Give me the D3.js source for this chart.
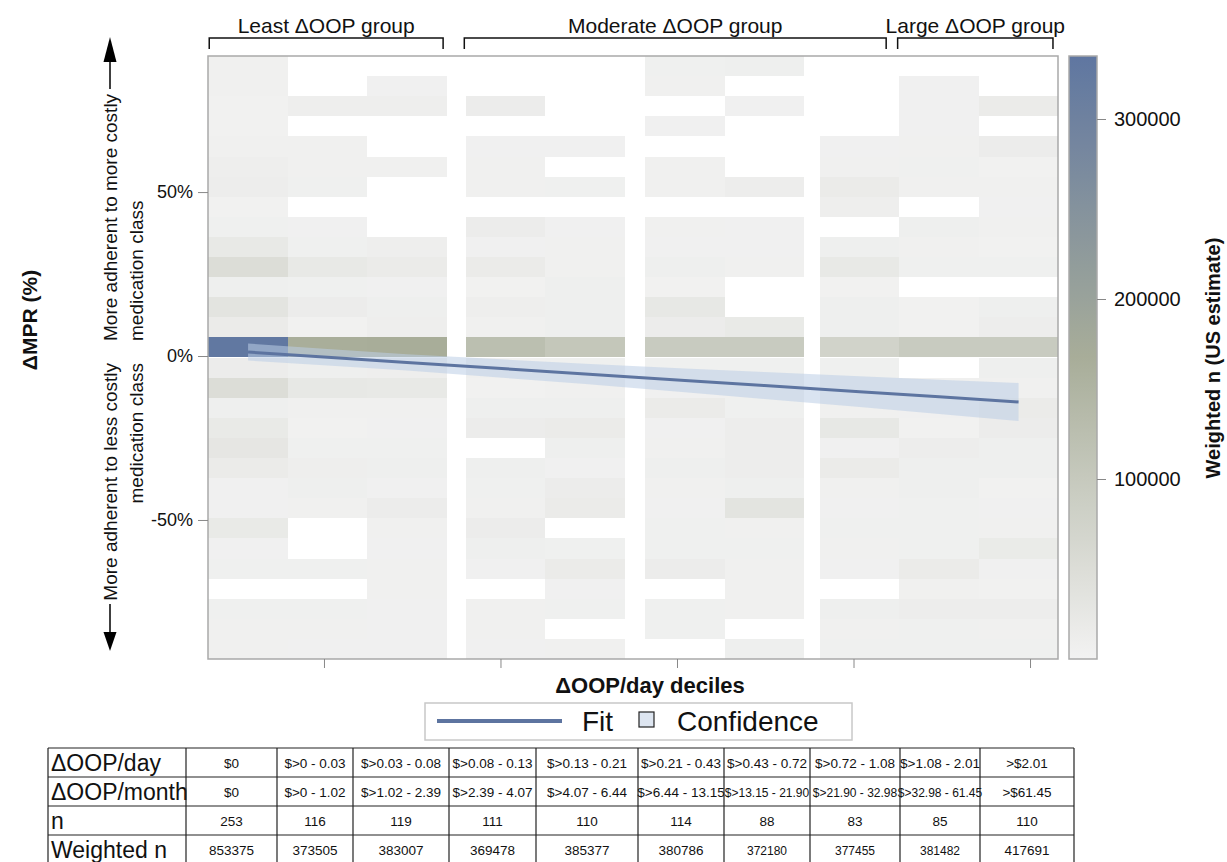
<!DOCTYPE html>
<html>
<head>
<meta charset="utf-8">
<script src="https://cdn.jsdelivr.net/npm/d3@7"></script>
<style>
  body { margin: 0; background: #fff; }
  svg text { font-family: "Liberation Sans", Arial, Helvetica, sans-serif; fill: #111; }
</style>
</head>
<body>
<svg id="chart" width="1227" height="862"></svg>
<script>
// ---------------- data ----------------
const deciles = [1, 2, 3, 4, 5, 6, 7, 8, 9, 10];
// position of each decile column on the decile axis
const decileX = [1.14, 2.04, 2.94, 4.06, 4.96, 6.09, 6.99, 8.07, 8.97, 9.87];
const decileBinWidth = 0.9;
const xDomain = [0.686, 10.317];
const xTickValues = [2, 4, 6, 8, 10];

// ΔMPR bins (percent): 30 bins spanning the axis
const mprDomain = [-92.4, 91.5];
const mprBinCount = 30;
const mprTicks = [-50, 0, 50];

// weighted n per ΔMPR bin, listed from the highest bin down; null = no patients
const wn1  = [5000,5000,3000,3000,5000,10000,12000,3000,6000,22000,50000,8000,33000,16000,330000,14000,50000,8000,20000,28000,16000,4000,4000,20000,4000,6000,null,6000,5000,5000];
const wn2  = [null,null,10000,null,5000,5000,6000,null,4000,6000,22000,6000,14000,3000,165000,8000,25000,5000,3000,6000,10000,8000,5000,null,null,6000,null,6000,5000,4000];
const wn3  = [null,4000,10000,null,null,5000,null,null,null,10000,16000,4000,8000,10000,168000,10000,22000,5000,4000,6000,8000,4000,14000,5000,4000,5000,5000,4000,4000,4000];
const wn4  = [null,null,14000,null,4000,5000,5000,null,14000,4000,16000,3000,10000,5000,125000,5000,3000,8000,14000,null,8000,6000,5000,14000,8000,4000,null,5000,5000,4000];
const wn5  = [null,null,null,null,4000,null,6000,null,4000,5000,5000,8000,8000,8000,105000,6000,5000,8000,16000,8000,4000,14000,16000,null,6000,16000,4000,6000,null,5000];
const wn6  = [6000,5000,null,4000,null,5000,5000,null,5000,4000,8000,3000,25000,14000,95000,6000,4000,16000,4000,5000,8000,5000,4000,6000,6000,14000,null,6000,6000,null];
const wn7  = [8000,null,4000,null,null,null,12000,null,4000,4000,5000,null,null,20000,95000,6000,5000,6000,12000,12000,12000,8000,33000,5000,6000,5000,5000,5000,null,8000];
const wn8  = [null,null,null,null,4000,5000,16000,10000,null,8000,22000,3000,8000,8000,75000,6000,5000,5000,25000,4000,16000,5000,4000,6000,5000,4000,null,8000,5000,6000];
const wn9  = [null,4000,4000,4000,5000,6000,5000,null,8000,5000,6000,null,3000,3000,95000,null,5000,4000,3000,12000,8000,8000,6000,6000,6000,16000,5000,12000,6000,6000];
const wn10 = [null,null,16000,null,14000,3000,5000,4000,5000,3000,6000,null,8000,12000,95000,8000,5000,16000,14000,8000,8000,3000,4000,5000,18000,4000,3000,12000,5000,6000];
const weightedByDecile = [wn1, wn2, wn3, wn4, wn5, wn6, wn7, wn8, wn9, wn10];

// linear fit of ΔMPR on decile with its confidence limits (percent)
const fitEstimate = [1.2, -0.37, -1.94, -3.89, -5.46, -7.43, -9.0, -10.88, -12.45, -14.0];
const fitUpper    = [3.8, 2.13, 0.56, -1.09, -2.36, -3.83, -4.9, -6.18, -7.25, -8.2];
const fitLower    = [-1.4, -2.87, -4.44, -6.69, -8.56, -11.03, -13.1, -15.58, -17.65, -19.8];

// colour legend
const colorDomain = [0, 167500, 335000];
const colorTicks = [100000, 200000, 300000];

// group brackets along the top (decile-axis units)
const groupNames = ["Least \u0394OOP group", "Moderate \u0394OOP group", "Large \u0394OOP group"];
const groupStart = [0.70, 3.59, 8.50];
const groupEnd   = [3.35, 8.37, 10.26];

// summary table
const rowLabels = ["\u0394OOP/day", "\u0394OOP/month", "n", "Weighted n"];
const oopDay   = ["$0", "$>0 - 0.03", "$>0.03 - 0.08", "$>0.08 - 0.13", "$>0.13 - 0.21", "$>0.21 - 0.43", "$>0.43 - 0.72", "$>0.72 - 1.08", "$>1.08 - 2.01", ">$2.01"];
const oopMonth = ["$0", "$>0 - 1.02", "$>1.02 - 2.39", "$>2.39 - 4.07", "$>4.07 - 6.44", "$>6.44 - 13.15", "$>13.15 - 21.90", "$>21.90 - 32.98", "$>32.98 - 61.45", ">$61.45"];
const nCount   = [253, 116, 119, 111, 110, 114, 88, 83, 85, 110];
const nWeighted = [853375, 373505, 383007, 369478, 385377, 380786, 372180, 377455, 381482, 417691];

// ---------------- layout ----------------
const svg = d3.select("#chart");
const P = { left: 208, right: 1058, top: 56, bottom: 659 };

const x = d3.scaleLinear().domain(xDomain).range([P.left, P.right]);
const y = d3.scaleLinear().domain(mprDomain).range([P.bottom, P.top]);
const color = d3.scaleLinear().domain(colorDomain)
  .range(["#f2f2f2", "#a8ad99", "#5f76a1"]).clamp(true);

const binStep = (mprDomain[1] - mprDomain[0]) / mprBinCount;

// heat map cells
const cells = [];
weightedByDecile.forEach((col, i) => {
  col.forEach((v, r) => {
    if (v == null) return;
    const hi = mprDomain[1] - r * binStep;
    cells.push({ d: deciles[i], xc: decileX[i], lo: hi - binStep, hi, v });
  });
});

const xl = d => Math.round(x(d.xc - decileBinWidth / 2));
const xr = d => Math.round(x(d.xc + decileBinWidth / 2));
svg.append("g").attr("shape-rendering", "crispEdges")
  .selectAll("rect").data(cells).join("rect")
  .attr("x", xl)
  .attr("width", d => xr(d) - xl(d))
  .attr("y", d => Math.round(y(d.hi)))
  .attr("height", d => Math.round(y(d.lo)) - Math.round(y(d.hi)))
  .attr("fill", d => color(d.v));

// confidence band and fit line
const fitPts = decileX.map((xv, i) => ({ x: xv, est: fitEstimate[i], lo: fitLower[i], hi: fitUpper[i] }));
svg.append("path").datum(fitPts)
  .attr("d", d3.area().x(d => x(d.x)).y0(d => y(d.lo)).y1(d => y(d.hi)))
  .attr("fill", "#bccde6").attr("fill-opacity", 0.55);
svg.append("path").datum(fitPts)
  .attr("d", d3.line().x(d => x(d.x)).y(d => y(d.est)))
  .attr("fill", "none").attr("stroke", "#5d74a0").attr("stroke-width", 3);

// frame
svg.append("rect").attr("x", P.left).attr("y", P.top)
  .attr("width", P.right - P.left).attr("height", P.bottom - P.top)
  .attr("fill", "none").attr("stroke", "#a9a9a9").attr("stroke-width", 1.5);

// y axis
const yAxis = svg.append("g").attr("transform", `translate(${P.left},0)`)
  .call(d3.axisLeft(y).tickValues(mprTicks).tickSize(10).tickPadding(5).tickFormat(d => d + "%"));
yAxis.select(".domain").remove();
yAxis.selectAll(".tick line").attr("stroke", "#888");
yAxis.selectAll(".tick text").attr("font-size", 18).attr("fill", "#222")
  .style("font-family", '"Liberation Sans", Arial, sans-serif');

// x axis (unlabelled ticks)
const xAxis = svg.append("g").attr("transform", `translate(0,${P.bottom})`)
  .call(d3.axisBottom(x).tickValues(xTickValues).tickSize(9).tickFormat(""));
xAxis.select(".domain").remove();
xAxis.selectAll(".tick line").attr("stroke", "#888");

// axis titles
svg.append("text").attr("transform", "translate(37,320) rotate(-90)")
  .attr("text-anchor", "middle").attr("font-size", 21).attr("font-weight", "bold")
  .text("\u0394MPR (%)");
svg.append("text").attr("x", 650).attr("y", 693)
  .attr("text-anchor", "middle").attr("font-size", 22).attr("font-weight", "bold")
  .text("\u0394OOP/day deciles");

// direction annotations
const ann = svg.append("g").attr("font-size", 19);
ann.append("text").attr("transform", "translate(117,341) rotate(-90)").attr("text-anchor", "start")
  .text("More adherent to more costly");
ann.append("text").attr("transform", "translate(143,341) rotate(-90)").attr("text-anchor", "start")
  .text("medication class");
ann.append("text").attr("transform", "translate(117,363) rotate(-90)").attr("text-anchor", "end")
  .text("More adherent to less costly");
ann.append("text").attr("transform", "translate(143,363) rotate(-90)").attr("text-anchor", "end")
  .text("medication class");
ann.append("line").attr("x1", 110).attr("x2", 110).attr("y1", 89).attr("y2", 60)
  .attr("stroke", "#000").attr("stroke-width", 1.5);
ann.append("path").attr("d", "M110,37 L103.5,62 L116.5,62 Z").attr("fill", "#000");
ann.append("line").attr("x1", 110).attr("x2", 110).attr("y1", 604).attr("y2", 634)
  .attr("stroke", "#000").attr("stroke-width", 1.5);
ann.append("path").attr("d", "M110,651 L103.5,632 L116.5,632 Z").attr("fill", "#000");

// group brackets
const gb = svg.append("g");
groupNames.forEach((name, i) => {
  const a = x(groupStart[i]), b = x(groupEnd[i]);
  gb.append("path").attr("d", `M${a},49 V38 H${b} V49`)
    .attr("fill", "none").attr("stroke", "#111").attr("stroke-width", 1.5);
  gb.append("text").attr("x", (a + b) / 2).attr("y", 33).attr("text-anchor", "middle")
    .attr("font-size", 21).text(name);
});

// colour bar
const cb = { x: 1069, w: 28 };
const cy = d3.scaleLinear().domain([colorDomain[0], colorDomain[2]]).range([P.bottom, P.top]);
const grad = svg.append("defs").append("linearGradient").attr("id", "ramp")
  .attr("x1", 0).attr("y1", 1).attr("x2", 0).attr("y2", 0);
d3.range(0, 1.0001, 0.05).forEach(t => {
  grad.append("stop").attr("offset", t)
    .attr("stop-color", color(colorDomain[0] + t * (colorDomain[2] - colorDomain[0])));
});
svg.append("rect").attr("x", cb.x).attr("y", P.top).attr("width", cb.w)
  .attr("height", P.bottom - P.top).attr("fill", "url(#ramp)")
  .attr("stroke", "#a9a9a9").attr("stroke-width", 1.5);
const cAxis = svg.append("g").attr("transform", `translate(${cb.x + cb.w},0)`)
  .call(d3.axisRight(cy).tickValues(colorTicks).tickSize(9).tickPadding(8).tickFormat(d3.format("d")));
cAxis.select(".domain").remove();
cAxis.selectAll(".tick line").attr("stroke", "#888");
cAxis.selectAll(".tick text").attr("font-size", 20).attr("fill", "#222")
  .style("font-family", '"Liberation Sans", Arial, sans-serif');
svg.append("text").attr("transform", "translate(1220,358) rotate(-90)")
  .attr("text-anchor", "middle").attr("font-size", 20).attr("font-weight", "bold")
  .text("Weighted n (US estimate)");

// legend
const lg = svg.append("g");
lg.append("rect").attr("x", 425).attr("y", 703).attr("width", 427).attr("height", 37)
  .attr("fill", "#fff").attr("stroke", "#c8c8c8").attr("stroke-width", 1.5);
lg.append("line").attr("x1", 437).attr("x2", 562).attr("y1", 721).attr("y2", 721)
  .attr("stroke", "#5d74a0").attr("stroke-width", 4);
lg.append("text").attr("x", 582).attr("y", 731).attr("font-size", 28).text("Fit");
lg.append("rect").attr("x", 639).attr("y", 712).attr("width", 15).attr("height", 15)
  .attr("fill", "#dde5f0").attr("stroke", "#222").attr("stroke-width", 1.2);
lg.append("text").attr("x", 677).attr("y", 731).attr("font-size", 28).text("Confidence");

// summary table
const colEdges = [48, 186, 277, 353, 449, 536, 638, 724, 810, 900, 980, 1074];
const rowTop = 748, rowH = 29;
const tableRows = [oopDay, oopMonth, nCount.map(String), nWeighted.map(String)];
const tb = svg.append("g");
tableRows.forEach((vals, r) => {
  const ty = rowTop + r * rowH;
  tb.append("text").attr("x", colEdges[0] + 3).attr("y", ty + rowH / 2 + 8)
    .attr("font-size", 23).text(rowLabels[r]);
  vals.forEach((v, c) => {
    const small = v.length >= 15 || (r === 3 && c >= 6 && c <= 8);
    tb.append("text").attr("x", (colEdges[c + 1] + colEdges[c + 2]) / 2)
      .attr("y", ty + rowH / 2 + 5).attr("text-anchor", "middle")
      .attr("font-size", small ? 12 : 13.5).text(v);
  });
});
colEdges.forEach(cx => {
  tb.append("line").attr("x1", cx).attr("x2", cx).attr("y1", rowTop).attr("y2", rowTop + rowH * 4)
    .attr("stroke", "#222").attr("stroke-width", 1.2);
});
d3.range(0, 5).forEach(r => {
  tb.append("line").attr("x1", colEdges[0]).attr("x2", colEdges[colEdges.length - 1])
    .attr("y1", rowTop + r * rowH).attr("y2", rowTop + rowH * r)
    .attr("stroke", "#222").attr("stroke-width", 1.2);
});
</script>
</body>
</html>
